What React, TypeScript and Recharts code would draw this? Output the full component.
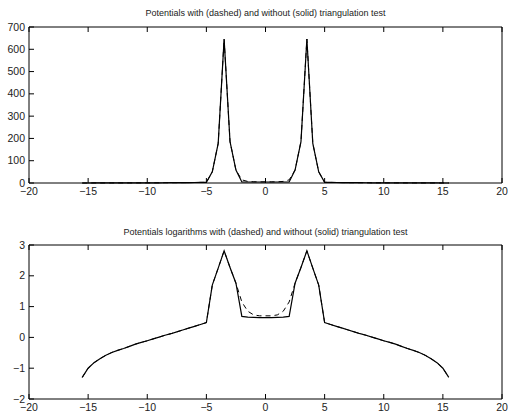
import { LineChart, Line, XAxis, YAxis } from 'recharts'

// sample positions
const xs = [
  -15.5, -15, -14.5, -14, -13.5, -13, -12.5, -12, -11.5, -11, -10.5, -10, -9.5, -9, -8.5, -8,
  -7.5, -7, -6.5, -6, -5.5, -5, -4.5, -4, -3.5, -3, -2.5, -2, -1.5, -1, -0.5, 0,
  0.5, 1, 1.5, 2, 2.5, 3, 3.5, 4, 4.5, 5, 5.5, 6, 6.5, 7, 7.5, 8,
  8.5, 9, 9.5, 10, 10.5, 11, 11.5, 12, 12.5, 13, 13.5, 14, 14.5, 15, 15.5,
]

// potentials, without (solid) and with (dashed) triangulation test
const potSolid = [
  0.05, 0.1, 0.15, 0.2, 0.26, 0.32, 0.38, 0.44, 0.51, 0.6, 0.69, 0.78, 0.89, 1.0, 1.2, 1.3,
  1.5, 1.7, 2.0, 2.3, 2.6, 3.0, 50, 178, 646, 186, 58, 4.8, 4.6, 4.5, 4.4, 4.4,
  4.4, 4.5, 4.6, 4.8, 58, 186, 646, 178, 50, 3.0, 2.6, 2.3, 2.0, 1.7, 1.5, 1.3,
  1.2, 1.0, 0.89, 0.78, 0.69, 0.6, 0.51, 0.44, 0.38, 0.32, 0.26, 0.2, 0.15, 0.1, 0.05,
]
const potDashed = [
  0.05, 0.1, 0.15, 0.2, 0.26, 0.32, 0.38, 0.44, 0.51, 0.6, 0.69, 0.78, 0.89, 1.0, 1.2, 1.3,
  1.5, 1.7, 2.0, 2.3, 2.6, 3.0, 50, 178, 646, 186, 58, 14, 7.1, 5.4, 5.0, 5.0,
  5.0, 5.4, 7.1, 14, 58, 186, 646, 178, 50, 3.0, 2.6, 2.3, 2.0, 1.7, 1.5, 1.3,
  1.2, 1.0, 0.89, 0.78, 0.69, 0.6, 0.51, 0.44, 0.38, 0.32, 0.26, 0.2, 0.15, 0.1, 0.05,
]

// log10 of the potentials
const logSolid = [
  -1.3, -1.0, -0.82, -0.69, -0.58, -0.49, -0.42, -0.36, -0.29, -0.22, -0.16, -0.11, -0.05, 0.01, 0.07, 0.12,
  0.18, 0.24, 0.3, 0.36, 0.42, 0.48, 1.7, 2.25, 2.81, 2.27, 1.76, 0.68, 0.66, 0.65, 0.64, 0.64,
  0.64, 0.65, 0.66, 0.68, 1.76, 2.27, 2.81, 2.25, 1.7, 0.48, 0.42, 0.36, 0.3, 0.24, 0.18, 0.12,
  0.07, 0.01, -0.05, -0.11, -0.16, -0.22, -0.29, -0.36, -0.42, -0.49, -0.58, -0.69, -0.82, -1.0, -1.3,
]
const logDashed = [
  -1.3, -1.0, -0.82, -0.69, -0.58, -0.49, -0.42, -0.36, -0.29, -0.22, -0.16, -0.11, -0.05, 0.01, 0.07, 0.12,
  0.18, 0.24, 0.3, 0.36, 0.42, 0.48, 1.7, 2.25, 2.81, 2.27, 1.76, 1.15, 0.85, 0.73, 0.7, 0.7,
  0.7, 0.73, 0.85, 1.15, 1.76, 2.27, 2.81, 2.25, 1.7, 0.48, 0.42, 0.36, 0.3, 0.24, 0.18, 0.12,
  0.07, 0.01, -0.05, -0.11, -0.16, -0.22, -0.29, -0.36, -0.42, -0.49, -0.58, -0.69, -0.82, -1.0, -1.3,
]

const xTicks = [-20, -15, -10, -5, 0, 5, 10, 15, 20]
const potTicks = [0, 100, 200, 300, 400, 500, 600, 700]
const logTicks = [-2, -1, 0, 1, 2, 3]

const FONT = '"Liberation Sans", Arial, sans-serif'
const INK = '#000'
const TXT = '#222'
const TL = 5 // tick length, drawn inwards like matlab

const fmt = (v: number) => (v < 0 ? `\u2212${Math.abs(v)}` : `${v}`)

const topData = xs.map((x, i) => ({ x, solid: potSolid[i], dashed: potDashed[i] }))
const botData = xs.map((x, i) => ({ x, solid: logSolid[i], dashed: logDashed[i] }))

function BottomTick(props: any) {
  const { x, y, payload } = props
  return (
    <g>
      <line x1={x} x2={x} y1={y} y2={y - TL} stroke={INK} />
      <text x={x} y={y + 12} textAnchor="middle" fontSize={10.5} fontFamily={FONT} fill={TXT}>
        {fmt(payload.value)}
      </text>
    </g>
  )
}
function TopTick(props: any) {
  const { x, y } = props
  return <line x1={x} x2={x} y1={y} y2={y + TL} stroke={INK} />
}
function LeftTick(props: any) {
  const { x, y, payload } = props
  return (
    <g>
      <line x1={x} x2={x + TL} y1={y} y2={y} stroke={INK} />
      <text x={x - 4} y={y + 3.5} textAnchor="end" fontSize={10.5} fontFamily={FONT} fill={TXT}>
        {fmt(payload.value)}
      </text>
    </g>
  )
}
function RightTick(props: any) {
  const { x, y } = props
  return <line x1={x} x2={x - TL} y1={y} y2={y} stroke={INK} />
}

function Panel({ data, yTicks, yDomain, marginTop, axisH, height }: any) {
  return (
    <LineChart
      width={508}
      height={height}
      data={data}
      margin={{ top: marginTop - 1, right: 5, left: 0, bottom: 0 }}
    >
      <XAxis
        dataKey="x"
        type="number"
        domain={[-20, 20]}
        ticks={xTicks}
        interval={0}
        height={axisH}
        tickSize={0}
        tickMargin={0}
        tickLine={false}
        axisLine={{ stroke: INK }}
        tick={<BottomTick />}
      />
      <XAxis
        xAxisId="top"
        orientation="top"
        dataKey="x"
        type="number"
        domain={[-20, 20]}
        ticks={xTicks}
        interval={0}
        height={1}
        tickSize={0}
        tickMargin={0}
        tickLine={false}
        axisLine={{ stroke: INK }}
        tick={<TopTick />}
      />
      <YAxis
        type="number"
        domain={yDomain}
        ticks={yTicks}
        interval={0}
        width={29}
        tickSize={0}
        tickMargin={0}
        tickLine={false}
        axisLine={{ stroke: INK }}
        tick={<LeftTick />}
      />
      <YAxis
        yAxisId="right"
        orientation="right"
        type="number"
        domain={yDomain}
        ticks={yTicks}
        interval={0}
        width={1}
        tickSize={0}
        tickMargin={0}
        tickLine={false}
        axisLine={{ stroke: INK }}
        tick={<RightTick />}
      />
      <Line
        type="linear"
        dataKey="dashed"
        stroke={INK}
        strokeWidth={1}
        strokeDasharray="5 4"
        dot={false}
        isAnimationActive={false}
      />
      <Line
        type="linear"
        dataKey="solid"
        stroke={INK}
        strokeWidth={1.2}
        dot={false}
        isAnimationActive={false}
      />
    </LineChart>
  )
}

const titleStyle: any = {
  position: 'absolute',
  left: 29,
  width: 473,
  textAlign: 'center',
  fontFamily: FONT,
  fontSize: 9,
  color: TXT,
  lineHeight: '10px',
}

export default function App() {
  return (
    <div style={{ position: 'absolute', left: 0, top: 0, width: 508, height: 414, background: '#fff' }}>
      <div style={{ ...titleStyle, top: 8 }}>
        Potentials with (dashed) and without (solid) triangulation test
      </div>
      <div style={{ position: 'absolute', left: 0, top: 0 }}>
        <Panel data={topData} yTicks={potTicks} yDomain={[0, 700]} marginTop={27} axisH={17} height={200} />
      </div>
      <div style={{ ...titleStyle, top: 227 }}>
        Potentials logarithms with (dashed) and without (solid) triangulation test
      </div>
      <div style={{ position: 'absolute', left: 0, top: 214 }}>
        <Panel data={botData} yTicks={logTicks} yDomain={[-2, 3]} marginTop={31} axisH={15} height={200} />
      </div>
    </div>
  )
}
